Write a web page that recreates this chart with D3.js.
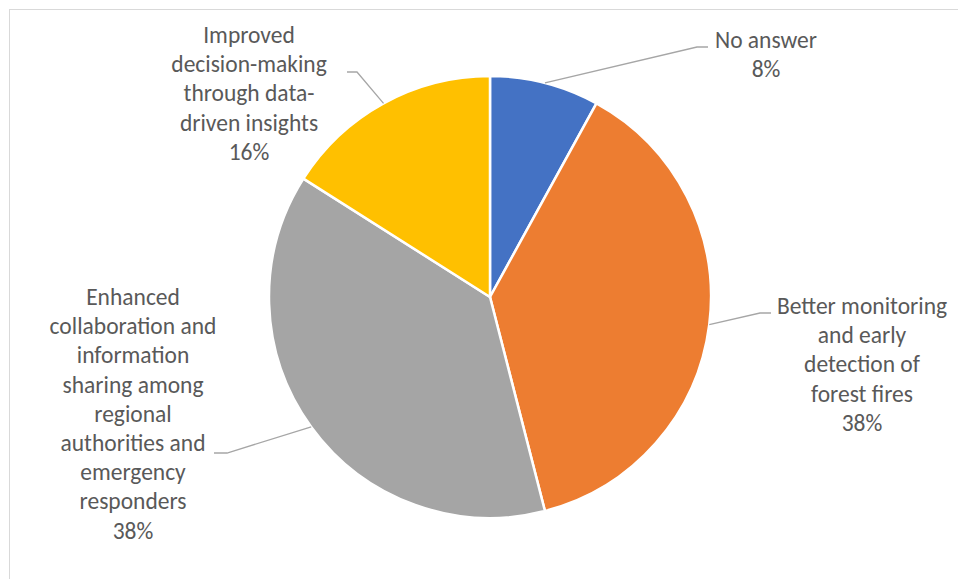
<!DOCTYPE html>
<html>
<head>
<meta charset="utf-8">
<script src="https://cdn.jsdelivr.net/npm/d3@7"></script>
<style>
  html, body { margin: 0; padding: 0; background: #ffffff; }
  svg { display: block; }
</style>
</head>
<body>
<svg id="chart" width="958" height="579"></svg>
<script>
// Survey answers: share of respondents per expected benefit
const categories = [
  "No answer",
  "Better monitoring and early detection of forest fires",
  "Enhanced collaboration and information sharing among regional authorities and emergency responders",
  "Improved decision-making through data-driven insights"
];
const values = [8, 38, 38, 16];
const colors = ["#4472c4", "#ed7d31", "#a5a5a5", "#ffc000"];

// Label text broken into lines, as wrapped in the chart
const labelLines = [
  ["No answer"],
  ["Better monitoring", "and early", "detection of", "forest fires"],
  ["Enhanced", "collaboration and", "information", "sharing among", "regional", "authorities and", "emergency", "responders"],
  ["Improved", "decision-making", "through data-", "driven insights"]
];

// Label placement: text centre x, first baseline y, and where the leader line ends
const labelLayout = [
  { x: 766, y: 48,  elbow: [697, 47],  end: [708, 47] },
  { x: 862, y: 314, elbow: [760, 313], end: [771, 313] },
  { x: 133, y: 305, elbow: [227, 453], end: [214, 453] },
  { x: 249, y: 43,  elbow: [357, 72],  end: [347, 72] }
];

const svg = d3.select("#chart");
const W = 958, H = 579;
const cx = 490, cy = 297, r = 221;
const lineH = 29.2;

// Chart area frame
svg.append("rect")
  .attr("x", 9.5).attr("y", 9.5)
  .attr("width", W + 10).attr("height", H + 10)
  .attr("fill", "#ffffff")
  .attr("stroke", "#d9d9d9")
  .attr("stroke-width", 1);

const pie = d3.pie().sort(null).value(d => d)(values);
const arc = d3.arc().innerRadius(0).outerRadius(r);

const g = svg.append("g").attr("transform", `translate(${cx},${cy})`);

g.selectAll("path.slice")
  .data(pie)
  .join("path")
  .attr("class", "slice")
  .attr("d", arc)
  .attr("fill", (d, i) => colors[i])
  .attr("stroke", "#ffffff")
  .attr("stroke-width", 2.5)
  .attr("stroke-linejoin", "round");

// Leader lines from the middle of each slice's outer edge
pie.forEach((d, i) => {
  const a = (d.startAngle + d.endAngle) / 2;
  const sx = cx + r * Math.sin(a);
  const sy = cy - r * Math.cos(a);
  const L = labelLayout[i];
  svg.append("polyline")
    .attr("points", [[sx, sy], L.elbow, L.end].map(p => p.join(",")).join(" "))
    .attr("fill", "none")
    .attr("stroke", "#a6a6a6")
    .attr("stroke-width", 1.3);
});

// Category labels with percentage on the last line
const fmt = d3.format(".0%");
labelLines.forEach((lines, i) => {
  const L = labelLayout[i];
  const all = lines.concat([fmt(values[i] / 100)]);
  const t = svg.append("text")
    .attr("x", L.x).attr("y", L.y)
    .attr("text-anchor", "middle")
    .attr("fill", "#595959")
    .style("font-family", "Carlito, Calibri, Lato, 'Open Sans', sans-serif")
    .style("font-size", "23.5px");
  all.forEach((s, k) => {
    t.append("tspan")
      .attr("x", L.x)
      .attr("y", L.y + k * lineH)
      .text(s);
  });
});
</script>
</body>
</html>
